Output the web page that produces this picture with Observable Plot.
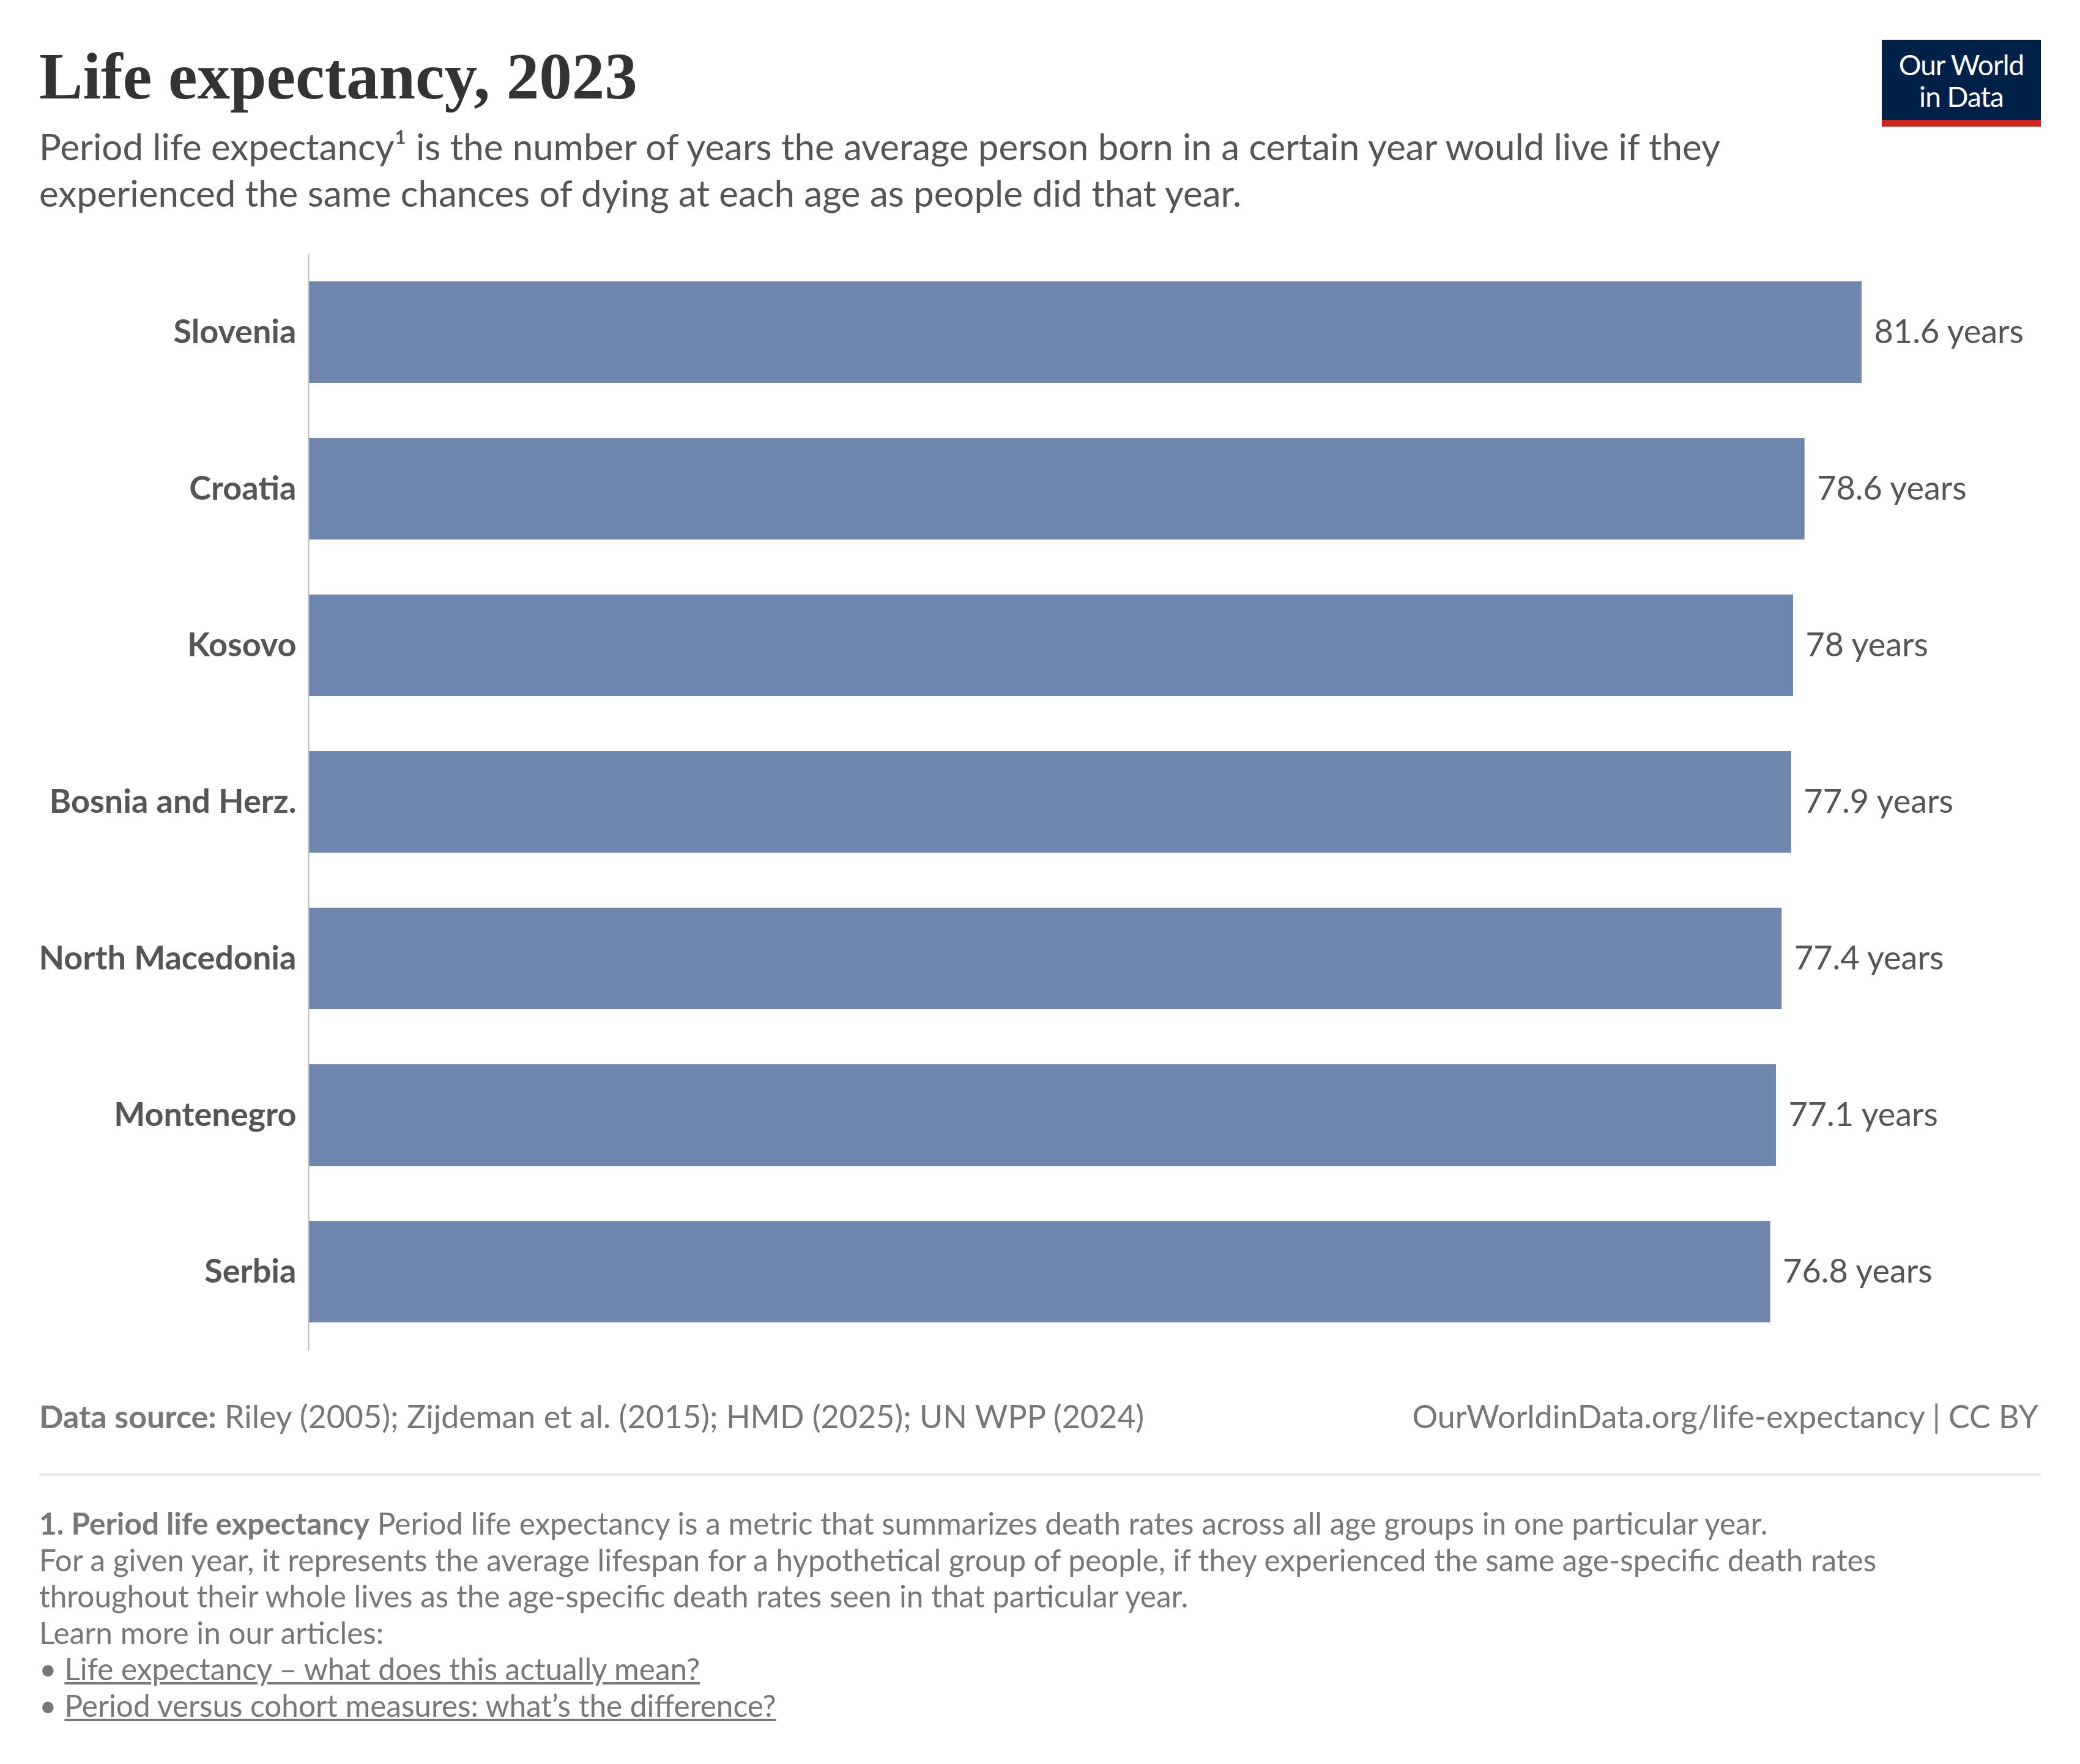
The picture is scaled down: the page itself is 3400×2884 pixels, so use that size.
<!DOCTYPE html>
<html><head><meta charset="utf-8">
<script src="https://cdn.jsdelivr.net/npm/d3@7"></script>
<script src="https://cdn.jsdelivr.net/npm/@observablehq/plot@0.6"></script>
<style>
body{margin:0;background:#fff;font-family:Lato,sans-serif;}
#page{position:relative;width:3400px;height:2884px;overflow:hidden;}
.t{position:absolute;white-space:nowrap;line-height:1;}
a{color:inherit;}
</style></head><body><div id="page">
<div class="t" style="left:64px;top:72px;font-family:'Liberation Serif',serif;font-weight:bold;font-size:107px;color:#333;">Life expectancy, 2023</div>
<div style="position:absolute;left:3076px;top:65px;width:260px;height:131px;background:#002147;"></div>
<div style="position:absolute;left:3076px;top:196px;width:260px;height:11px;background:#ce261e;"></div>
<div class="t" style="left:3076px;top:80px;width:260px;text-align:center;color:#fff;font-size:46px;line-height:52px;letter-spacing:-1px;">Our World<br>in Data</div>
<div class="t" style="left:64px;top:201px;font-size:60px;line-height:76px;color:#555;">Period life expectancy¹ is the number of years the average person born in a certain year would live if they<br>experienced the same chances of dying at each age as people did that year.</div>
<div id="chart" style="position:absolute;left:0;top:415px;"></div>
<div class="t" style="left:64px;top:2289px;font-size:52px;color:#777;"><b>Data source:</b> Riley (2005); Zijdeman et al. (2015); HMD (2025); UN WPP (2024)</div>
<div class="t" style="right:68px;top:2289px;font-size:52px;color:#777;">OurWorldinData.org/life-expectancy | CC BY</div>
<div style="position:absolute;left:64px;top:2409px;width:3272px;height:4px;background:#e7e7e7;"></div>
<div class="t" style="left:64px;top:2461px;font-size:49.5px;line-height:59.5px;color:#777;"><b>1. Period life expectancy</b> Period life expectancy is a metric that summarizes death rates across all age groups in one particular year.<br>For a given year, it represents the average lifespan for a hypothetical group of people, if they experienced the same age-specific death rates<br>throughout their whole lives as the age-specific death rates seen in that particular year.<br>Learn more in our articles:<br>• <a href="#">Life expectancy – what does this actually mean?</a><br>• <a href="#">Period versus cohort measures: what’s the difference?</a></div>
</div>
<script>
const countries = ["Slovenia","Croatia","Kosovo","Bosnia and Herz.","North Macedonia","Montenegro","Serbia"];
const values = [81.6,78.6,78,77.9,77.4,77.1,76.8];
const labels = ["81.6 years","78.6 years","78 years","77.9 years","77.4 years","77.1 years","76.8 years"];
const data = countries.map((c,i)=>({country:c,value:values[i],label:labels[i]}));
const chart = Plot.plot({
  width:3400, height:1793,
  marginLeft:504, marginRight:357, marginTop:0, marginBottom:0,
  style:{fontFamily:"Lato, sans-serif", background:"transparent"},
  x:{domain:[0,81.6], axis:null},
  y:{domain:countries, paddingInner:0.35, paddingOuter:0.17, label:null, axis:null},
  marks:[
    Plot.barX(data,{y:"country",x:"value",fill:"#6f87ae"}),
    Plot.ruleX([0],{stroke:"#bbb",strokeWidth:2}),
    Plot.text(data,{y:"country",x:"value",text:"label",textAnchor:"start",dx:20,fontSize:54,fill:"#555"}),
    Plot.axisY({tickSize:0,tickPadding:20,fontSize:54,fontWeight:"bold",fill:"#555",label:null})
  ]
});
document.getElementById("chart").appendChild(chart);
</script>
</body></html>
